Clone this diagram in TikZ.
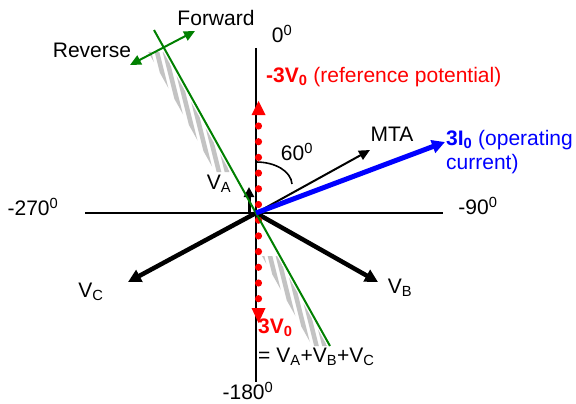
\documentclass[tikz,border=0pt]{standalone}
\usepackage{fontspec}
\setmainfont{Liberation Sans}
\usetikzlibrary{arrows.meta}
\definecolor{vred}{RGB}{255,0,0}
\definecolor{vblue}{RGB}{0,0,255}
\definecolor{vgreen}{RGB}{0,128,0}
\definecolor{hatchgray}{RGB}{195,195,195}
\begin{document}
\begin{tikzpicture}[x=1pt,y=-1pt,
  lbl/.style={inner sep=0pt, font=\fontsize{21}{24}\selectfont},
  axisline/.style={line width=2pt, black},
  phasor/.style={line width=4.5pt, black, -{Triangle[length=13pt,width=13pt]}},
  thinvec/.style={line width=2pt, black, -{Triangle[length=11pt,width=10pt]}},
  bluevec/.style={line width=5pt, vblue, -{Triangle[length=13pt,width=13pt]}},
  redhead/.style={fill=vred},
  reddot/.style={fill=vred},
  hatchline/.style={line width=4.5pt, hatchgray},
  borderline/.style={line width=2pt, vgreen},
  dirarrow/.style={line width=2pt, vgreen, {Triangle[length=11pt,width=10pt]}-{Triangle[length=11pt,width=10pt]}}
]
\useasboundingbox (0,0) rectangle (576,404);

% named points
\coordinate (O) at (256,213);
\coordinate (xl) at (85,213);
\coordinate (xr) at (443,213);
\coordinate (yt) at (256,48);
\coordinate (yb) at (256,382);
\coordinate (gA) at (154,30);
\coordinate (gB) at (330,346);
\coordinate (mta) at (370,150);
\coordinate (iop) at (445,142);
\coordinate (vaS) at (249,213);
\coordinate (vaE) at (249,187);
\coordinate (vb) at (378,282);
\coordinate (vc) at (128,282);
\coordinate (rv) at (130,65);
\coordinate (fw) at (195,31);
\coordinate (arcS) at (256,162);
\coordinate (arcE) at (292,184);

% hatched reverse zone (upper)
\begin{scope}
  \clip (148.3,52) -- (163.3,52) -- (230.1,172) -- (215.1,172) -- cycle;
  \foreach \s in {120,128,...,300} \draw[hatchline] (\s,0) -- ++(100,400);
\end{scope}
% hatched reverse zone (lower)
\begin{scope}
  \clip (262,256) -- (277,256) -- (327.2,346) -- (312.2,346) -- cycle;
  \foreach \s in {150,158,...,330} \draw[hatchline] (\s,0) -- ++(100,400);
\end{scope}

% axes
\draw[axisline] (xl) -- (xr);
\draw[axisline] (yt) -- (yb);

% phasors V_B, V_C
\draw[phasor] (O) -- (vc);
\draw[phasor] (O) -- (vb);
\draw[line width=3pt, black, -{Triangle[length=10pt,width=10pt]}] (vaS) -- (vaE);

% red dotted 3V0 / -3V0
\foreach \y in {126,141.7,157.4,173.1,188.8,204.5,220.2,235.9,251.6,267.3,283,298.7}
  \fill[reddot] (258.5,\y) circle (3.6);
\coordinate (ru) at (258.5,101);
\coordinate (rd) at (258.5,323);
\fill[redhead] (ru) -- (251.5,115) -- (265.5,115) -- cycle;
\fill[redhead] (rd) -- (251.5,308) -- (265.5,308) -- cycle;

% green boundary line and direction arrow
\draw[borderline] (gA) -- (gB);
\draw[dirarrow] (rv) -- (fw);

% MTA and operating current
\draw[thinvec] (O) -- (mta);
\draw[bluevec] (O) -- (iop);

% 60 degree arc
\draw[line width=1.6pt, black] (arcS) .. controls (275,162) and (291,171) .. (arcE);

% labels
\node[lbl] (tFw) at (216,18) {Forward};
\node[lbl] (tRv) at (92,50) {Reverse};
\node[lbl] (t0) at (282,34) {0\textsuperscript{0}};
\node[lbl, anchor=west, text=vred] (tref) at (266,77) {\textbf{-3V\textsubscript{0}} (reference potential)};
\node[lbl] (tMTA) at (392,134) {MTA};
\node[lbl, anchor=north west, align=left, text=vblue] (tI) at (446,130) {\textbf{3I\textsubscript{0}} (operating\\current)};
\node[lbl] (t60) at (297,152) {60\textsuperscript{0}};
\node[lbl] (tVA) at (219,184) {V\textsubscript{A}};
\node[lbl] (t270) at (33,207) {-270\textsuperscript{0}};
\node[lbl] (t90) at (478,206) {-90\textsuperscript{0}};
\node[lbl] (t180) at (248,391) {-180\textsuperscript{0}};
\node[lbl] (tVC) at (91,292) {V\textsubscript{C}};
\node[lbl] (tVB) at (400,288) {V\textsubscript{B}};
\node[lbl, anchor=west, text=vred] (t3V) at (258,328) {\textbf{3V\textsubscript{0}}};
\node[lbl, anchor=west] (tsum) at (258,357) {= V\textsubscript{A}+V\textsubscript{B}+V\textsubscript{C}};
\end{tikzpicture}
\end{document}
